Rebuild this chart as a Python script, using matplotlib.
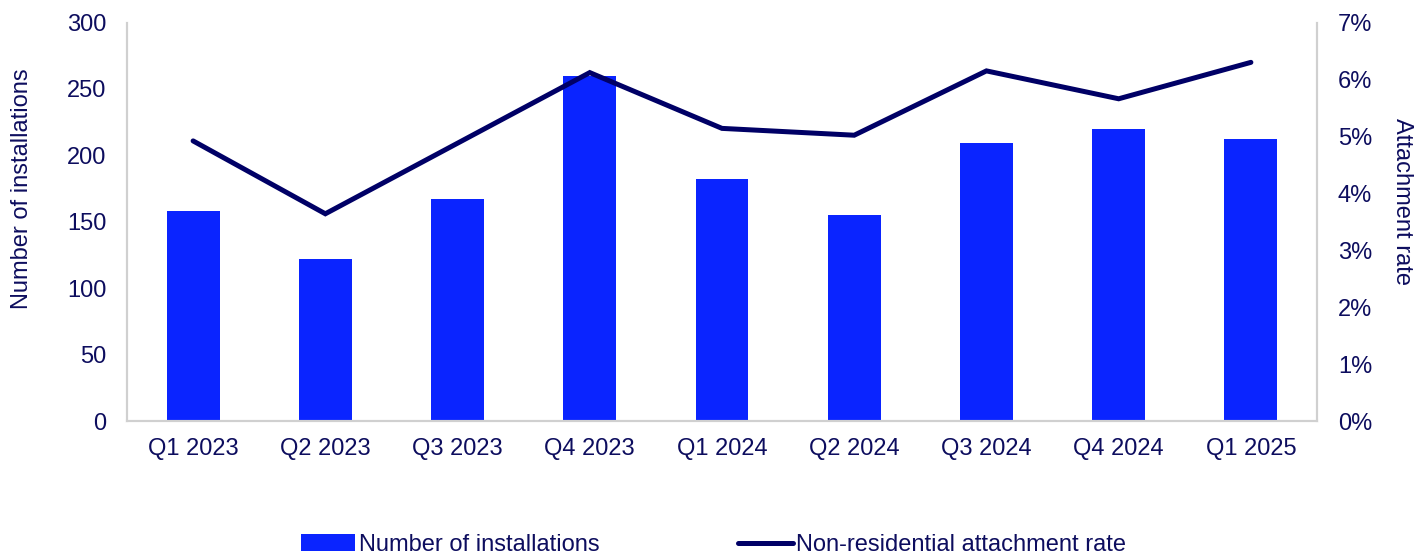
import matplotlib
matplotlib.use("Agg")
import matplotlib.pyplot as plt
from matplotlib.ticker import FuncFormatter, MultipleLocator
from matplotlib.patches import Patch
from matplotlib.lines import Line2D

quarters = ["Q1 2023", "Q2 2023", "Q3 2023", "Q4 2023", "Q1 2024",
            "Q2 2024", "Q3 2024", "Q4 2024", "Q1 2025"]
installations = [158, 122, 167, 260, 182, 155, 209, 220, 212]
attachment_rate = [4.92, 3.64, 4.88, 6.12, 5.14, 5.02, 6.15, 5.66, 6.30]

BAR_COLOR = "#0A24FF"
LINE_COLOR = "#000066"
TEXT_COLOR = "#0D0D5E"
SPINE_COLOR = "#D0D0D0"
FS = 17

plt.rcParams["font.family"] = ["Liberation Sans", "DejaVu Sans"]
plt.rcParams["font.size"] = FS

fig = plt.figure(figsize=(14.27, 5.59), dpi=100)
ax = fig.add_axes([127 / 1427, 138 / 559, 1190 / 1427, 398.5 / 559])
ax2 = ax.twinx()

x = range(len(quarters))
ax.bar(x, installations, width=0.4, color=BAR_COLOR, zorder=2)
ax2.plot(list(x), attachment_rate, color=LINE_COLOR, linewidth=3.6,
         solid_capstyle="round", solid_joinstyle="miter", zorder=3)

ax.set_xlim(-0.5, len(quarters) - 0.5)
ax.set_ylim(0, 300)
ax.yaxis.set_major_locator(MultipleLocator(50))
ax2.set_ylim(0, 7)
ax2.yaxis.set_major_locator(MultipleLocator(1))
ax2.yaxis.set_major_formatter(FuncFormatter(lambda v, _: f"{v:.0f}%"))

ax.set_xticks(list(x))
ax.set_xticklabels(quarters)

for a in (ax, ax2):
    a.spines["top"].set_visible(False)
    for side in ("left", "right", "bottom"):
        a.spines[side].set_color(SPINE_COLOR)
        a.spines[side].set_linewidth(1.5)
    a.tick_params(length=0, colors=TEXT_COLOR, labelsize=FS)
ax.tick_params(axis="y", pad=15)
ax.tick_params(axis="x", pad=12.5)
ax2.tick_params(axis="y", pad=15)

fig.text(22 / 1427, 1 - 189 / 559, "Number of installations", rotation=90,
         ha="center", va="center", color=TEXT_COLOR, fontsize=FS)
fig.text(1402 / 1427, 1 - 202 / 559, "Attachment rate", rotation=270,
         ha="center", va="center", color=TEXT_COLOR, fontsize=FS)

handles = [Patch(facecolor=BAR_COLOR, edgecolor="none"),
           Line2D([0], [0], color=LINE_COLOR, linewidth=3.6,
                  solid_capstyle="round")]
labels = ["Number of installations", "Non-residential attachment rate"]
fig.legend(handles, labels, loc="center", bbox_to_anchor=(0.5, 14 / 559),
           ncol=2, frameon=False, fontsize=FS, handlelength=2.3,
           handleheight=0.7, handletextpad=0.15, columnspacing=5.9,
           labelcolor=TEXT_COLOR, borderaxespad=0)

fig.savefig("out.png", dpi=100, facecolor="white")
